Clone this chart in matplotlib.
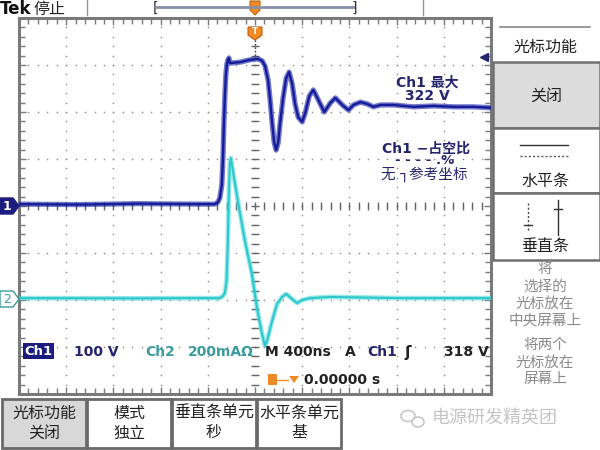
import matplotlib
matplotlib.use('Agg')
import matplotlib.pyplot as plt
import numpy as np
from matplotlib.patches import Rectangle, Polygon, Ellipse
from matplotlib.ticker import MultipleLocator

plt.rcParams['font.family'] = ['DejaVu Sans', 'Noto Sans CJK SC']

# ---------------- data ----------------
time_div_ns = 400          # M 400ns
ch1_v_div = 100            # Ch1 100 V/div
ch2_ma_div = 200           # Ch2 200 mA/div
ch2_offset_div = -2        # Ch2 ground marker two divisions below centre

ch1_t = [-2000, -1500, -1000, -500, -340, -315, -298, -281, -272, -264, -255, -247,
         -238, -230, -221, -213, -128, -43, 26, 60, 85, 111, 128, 145, 162, 179,
         196, 213, 238, 264, 289, 315, 340, 366, 400, 426, 460, 494, 536, 587,
         638, 681, 740, 792, 834, 894, 953, 1004, 1064, 1174, 1345, 1515, 1685,
         1855, 2000]
ch1_v = [4, 3, 5, 4, 4, 8, 17, 45, 98, 172, 236, 279,
         302, 311, 315, 304, 306, 311, 313, 309, 298, 268, 226, 177, 136, 119,
         134, 177, 230, 272, 285, 260, 217, 189, 179, 198, 234, 247, 226, 200,
         219, 230, 215, 204, 215, 221, 217, 211, 215, 215, 211, 213, 211,
         211, 209]

ch2_t = [-2000, -1000, -500, -298, -272, -255, -241, -230, -221, -213, -204, -187,
         -145, -85, -26, 17, 60, 85, 102, 145, 187, 230, 264, 315, 357, 400,
         468, 638, 1234, 2000]
ch2_ma = [8, 7, 8, 8, 17, 30, 81, 251, 464, 583, 604, 549,
          421, 251, 111, -34, -145, -196, -174, -89, -17, 13, 26, 4, -13, 0,
          8, 13, 8, 8]

ch1_max_label = "322 V"
trig_level_v = 318

NAVY = '#1c22a6'
CYAN = '#45d6da'
TXT_NAVY = '#25256e'
TEAL = '#3a9c9c'
GRAY = '#7a7a7a'
ORANGE = '#f08a24'

fig = plt.figure(figsize=(6, 4.5), dpi=100)
fig.patch.set_facecolor('white')

# graticule area in pixels
L, T, R, B = 19, 18, 491, 394
ax = fig.add_axes([L / 600, 1 - B / 450, (R - L) / 600, (B - T) / 450])
ax.set_xlim(-5 * time_div_ns, 5 * time_div_ns)
ax.set_ylim(-4, 4)
ax.set_facecolor('white')
for s in ax.spines.values():
    s.set_color(GRAY)
    s.set_linewidth(2.2)
ax.xaxis.set_major_locator(MultipleLocator(time_div_ns))
ax.xaxis.set_minor_locator(MultipleLocator(time_div_ns / 5))
ax.yaxis.set_major_locator(MultipleLocator(1))
ax.yaxis.set_minor_locator(MultipleLocator(0.2))
ax.tick_params(which='both', direction='in', top=True, right=True,
               labelbottom=False, labelleft=False, color=GRAY, width=1)
ax.tick_params(which='major', length=5)
ax.tick_params(which='minor', length=4)

# dotted graticule
ydots = np.arange(-4, 4.001, 0.2)
for k in range(-4, 5):
    xg = k * time_div_ns
    ax.plot(np.full_like(ydots, xg), ydots, ls='none', marker='s', ms=1.0,
            color='#8a8a8a', mew=0)
xdots = np.arange(-5 * time_div_ns, 5 * time_div_ns + 1, time_div_ns / 5)
for k in range(-3, 4):
    ax.plot(xdots, np.full_like(xdots, k), ls='none', marker='s', ms=1.0,
            color='#8a8a8a', mew=0)
# centre cross ticks
ax.plot(np.zeros_like(ydots), ydots, ls='none', marker='_', ms=6, color='#666', mew=1)
ax.plot(xdots, np.zeros_like(xdots), ls='none', marker='|', ms=6, color='#666', mew=1)

# traces
y1 = np.array(ch1_v) / ch1_v_div
y2 = np.array(ch2_ma) / ch2_ma_div + ch2_offset_div
ax.plot(ch2_t, y2, color=CYAN, lw=3.4, alpha=0.55, solid_joinstyle='round', zorder=3)
ax.plot(ch2_t, y2, color='#2ec8cc', lw=1.5, zorder=3)
ax.plot(ch1_t, y1, color=NAVY, lw=3.8, alpha=0.6, solid_joinstyle='round', zorder=4)
ax.plot(ch1_t, y1, color='#141c9a', lw=1.7, zorder=4)
# trigger level arrow
ax.plot([5 * time_div_ns * 0.97], [trig_level_v / ch1_v_div], marker='<', ms=6,
        color=TXT_NAVY, clip_on=False, zorder=6)

# ---------------- overlay in pixel coordinates ----------------
ov = fig.add_axes([0, 0, 1, 1], zorder=5)
ov.set_xlim(0, 600)
ov.set_ylim(450, 0)
ov.axis('off')
ov.patch.set_alpha(0)

# top bar
ov.text(0, 9, "Tek", fontsize=12, fontweight='bold', family=['DejaVu Sans'],
        va='center', ha='left', color='#111')
ov.text(33, 9, "停止", fontsize=11.5, va='center', ha='left', color='#222',
        family=['Noto Sans CJK SC'])
ov.plot([87, 87], [0, 15], color='#999', lw=1)
ov.plot([423, 423], [0, 15], color='#999', lw=1)
ov.plot([157, 354], [7, 7], color='#8890a8', lw=2)
ov.text(153, 8, "[", fontsize=10, va='center', ha='left', color='#333')
ov.text(357, 8, "]", fontsize=10, va='center', ha='right', color='#333')
ov.add_patch(Polygon([[250, 1], [260, 1], [260, 10], [255, 15], [250, 10]],
                     closed=True, fc=ORANGE, ec='#c06010', lw=0.8))
ov.add_patch(Polygon([[248, 27], [262, 27], [262, 35], [255, 40], [248, 35]],
                     closed=True, fc=ORANGE, ec='#c06010', lw=0.8))
ov.text(255, 32, "T", fontsize=6.5, fontweight='bold', color='white', ha='center', va='center')
ov.plot([255, 255], [40, 58], color='#222', lw=1, ls=(0, (1, 1.5)))

# channel ground markers
ov.add_patch(Polygon([[0, 198], [13, 198], [19, 206], [13, 214], [0, 214]],
                     closed=True, fc='#1c1c80', ec='#1c1c80'))
ov.text(7, 206.5, "1", fontsize=9, fontweight='bold', color='white', ha='center', va='center')
ov.add_patch(Polygon([[0, 291], [13, 291], [19, 299], [13, 307], [0, 307]],
                     closed=True, fc='white', ec=TEAL, lw=1))
ov.text(7, 299.5, "2", fontsize=9, color=TEAL, ha='center', va='center')

# measurement texts
ov.text(427, 83, "Ch1 最大", fontsize=10, color=TXT_NAVY, ha='center', va='center', fontweight='bold')
ov.text(427, 96, ch1_max_label, fontsize=10, color=TXT_NAVY, ha='center', va='center', fontweight='bold')
ov.text(426, 149, "Ch1 −占空比", fontsize=10, color=TXT_NAVY, ha='center', va='center', fontweight='bold')
ov.text(425, 161, "- - - - .%", fontsize=9.5, color=TXT_NAVY, ha='center', va='center',
        fontweight='bold')
ov.text(424, 174, "无 ┐参考坐标", fontsize=10.5, color=TXT_NAVY, ha='center', va='center')

# bottom info row
ov.add_patch(Rectangle((23, 343), 31, 16, fc='#1c1c80', ec='none'))
ov.text(38.5, 351.5, "Ch1", fontsize=9.5, fontweight='bold', color='white', ha='center', va='center')
ov.text(74, 352, "100 V", fontsize=10, fontweight='bold', color=TXT_NAVY, ha='left', va='center')
ov.text(145, 352, "Ch2", fontsize=10, fontweight='bold', color=TEAL, ha='left', va='center')
ov.text(188, 352, "200mAΩ", fontsize=10, fontweight='bold', color=TEAL, ha='left', va='center')
ov.text(265, 352, "M 400ns", fontsize=10, fontweight='bold', color='#222', ha='left', va='center')
ov.text(345, 352, "A", fontsize=10, fontweight='bold', color='#222', ha='left', va='center')
ov.text(367, 352, "Ch1", fontsize=10, fontweight='bold', color=TXT_NAVY, ha='left', va='center')
ov.text(404, 352, "ʃ", fontsize=11, fontweight='bold', color='#222', ha='left', va='center')
ov.text(489, 352, "318 V", fontsize=10, fontweight='bold', color='#222', ha='right', va='center')
ov.add_patch(Rectangle((268, 374), 9, 11, fc=ORANGE, ec='none'))
ov.plot([277, 288], [379.5, 379.5], color=ORANGE, lw=1)
ov.add_patch(Polygon([[289, 376], [299, 376], [294, 383]], closed=True, fc=ORANGE, ec='none'))
ov.text(304, 380, "0.00000 s", fontsize=10, fontweight='bold', color='#222', ha='left', va='center')

# right menu panel
ov.plot([500, 590], [27, 27], color='#888', lw=1.2)
ov.text(545, 47, "光标功能", fontsize=11.5, color='#222', ha='center', va='center')
ov.add_patch(Rectangle((493, 62), 107, 66, fc='#dcdcdc', ec='#707070', lw=1.8))
ov.text(546, 96, "关闭", fontsize=11.5, color='#222', ha='center', va='center')
ov.add_patch(Rectangle((493, 128), 107, 65, fc='white', ec='#707070', lw=1.8))
ov.plot([520, 568], [145, 145], color='#333', lw=1)
ov.plot([520, 568], [156, 156], color='#555', lw=1, ls=(0, (1.5, 1.5)))
ov.text(545, 181, "水平条", fontsize=11.5, color='#222', ha='center', va='center')
ov.add_patch(Rectangle((493, 193), 107, 67, fc='white', ec='#707070', lw=1.8))
ov.plot([528, 528], [203, 232], color='#444', lw=1, ls=(0, (1.5, 1.5)))
ov.plot([524, 532], [225, 225], color='#333', lw=1)
ov.plot([558, 558], [200, 235], color='#333', lw=1)
ov.plot([554, 562], [209, 209], color='#333', lw=1)
ov.text(545, 246, "垂直条", fontsize=11.5, color='#222', ha='center', va='center')
for txt, yy in [("将", 268), ("选择的", 286), ("光标放在", 303), ("中央屏幕上", 320),
                ("将两个", 345), ("光标放在", 362), ("屏幕上", 378)]:
    ov.text(545, yy, txt, fontsize=10.5, color='#8a8a8a', ha='center', va='center')

# bottom soft-key buttons
btns = [("光标功能", "关闭"), ("模式", "独立"), ("垂直条单元", "秒"), ("水平条单元", "基")]
for i, (a, b) in enumerate(btns):
    x0 = 2 + i * 85
    ov.add_patch(Rectangle((x0, 399), 84, 49, fc='#d8d8d8' if i == 0 else 'white',
                           ec='#6a6a6a', lw=2))
    ov.text(x0 + 42, 413, a, fontsize=11.5, color='#222', ha='center', va='center')
    ov.text(x0 + 42, 433, b, fontsize=11.5, color='#222', ha='center', va='center')

# watermark
ov.add_patch(Ellipse((408, 416), 14, 11, fc='none', ec='#c8c8c8', lw=1.2))
ov.add_patch(Ellipse((418, 422), 12, 10, fc='none', ec='#c8c8c8', lw=1.2))
ov.text(432, 418, "电源研发精英团", fontsize=13, color='#c4c4c4', ha='left', va='center')

fig.savefig('out.png', dpi=100, facecolor='white')
